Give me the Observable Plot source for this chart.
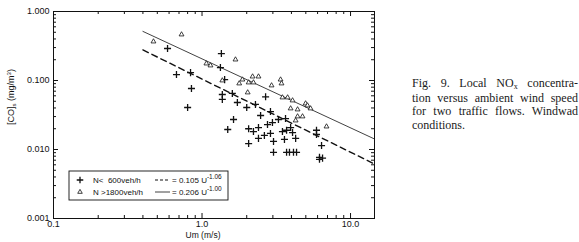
<!DOCTYPE html>
<html><head><meta charset="utf-8">
<script src="https://cdn.jsdelivr.net/npm/d3@7"></script>
<script src="https://cdn.jsdelivr.net/npm/@observablehq/plot@0.6"></script>
<style>
body{margin:0;background:#fff;}
#wrap{position:relative;width:579px;height:242px;overflow:hidden;}
#cap{position:absolute;left:412px;top:77px;width:166px;font:12px/13.5px "Liberation Serif","Times New Roman",serif;color:#1a1a1a;}
#cap .j{text-align:justify;text-align-last:justify;white-space:nowrap;}
#cap sub{font-size:8px;vertical-align:baseline;position:relative;top:2px;}
</style></head><body>
<div id="wrap"><div id="cap">
<div class="j">Fig. 9. Local NO<sub>x</sub> concentra-</div>
<div class="j">tion versus ambient wind speed</div>
<div class="j">for two traffic flows. Windwad</div>
<div>conditions.</div>
</div></div>
<script>
// N < 600 veh/h (plus)
const plusU = [0.586,0.673,0.837,0.849,0.80,1.35,1.33,1.42,1.37,1.37,1.60,1.73,2.00,2.29,2.68,2.89,2.48,1.63,1.49,2.06,2.22,2.40,2.76,2.63,2.40,2.06,2.89,3.03,3.27,3.65,3.95,2.98,3.48,3.71,4.07,3.59,4.27,3.03,3.71,3.88,4.13,4.33,5.90,5.90,6.38,6.18,6.48,6.18];
const plusC = [0.291,0.122,0.130,0.0766,0.0406,0.246,0.154,0.103,0.0627,0.0531,0.065,0.048,0.0406,0.045,0.058,0.0355,0.0311,0.0272,0.0195,0.020,0.0182,0.0208,0.0230,0.0160,0.0145,0.0122,0.0171,0.0131,0.0272,0.0281,0.0208,0.0246,0.0182,0.019,0.0176,0.0140,0.0145,0.0091,0.0091,0.0091,0.0091,0.0091,0.019,0.0165,0.0114,0.0077,0.0075,0.0072];
// N > 1800 veh/h (triangle)
const triU = [0.471,0.728,1.07,1.14,1.68,1.37,1.87,1.78,2.19,2.40,2.06,2.22,2.03,2.94,3.38,3.43,3.48,3.77,4.07,3.95,4.40,4.98,5.38,5.13,4.40,4.75,4.27,6.89];
const triC = [0.367,0.464,0.176,0.165,0.201,0.100,0.103,0.0905,0.114,0.114,0.0935,0.0935,0.067,0.0847,0.103,0.0905,0.0567,0.0567,0.0513,0.0393,0.038,0.0464,0.0393,0.0434,0.0301,0.0301,0.0263,0.0215];
// fits: C = a * U^b
const fitA = [0.105, 0.206];
const fitB = [-1.06, -1.00];
const fitRange = [0.4, 14.5];
const xTickValues = [0.1, 1, 10];
const xTickLabels = ["0.1", "1.0", "10.0"];
const yTickValues = [0.001, 0.01, 0.1, 1];
const yTickLabels = ["0.001", "0.010", "0.100", "1.000"];
const xDomain = [0.1, 14.5];
const yDomain = [0.001, 1];

const plus = plusU.map((u,i)=>({u, c: plusC[i]}));
const tri = triU.map((u,i)=>({u, c: triC[i]}));
const fits = fitA.map((a,k)=>fitRange.map(u=>({u, c: a*Math.pow(u, fitB[k]), k})));
const xMinor = [];
[0.1,1,10].forEach(d=>{for(let m=2;m<=9;m++){const v=d*m; if(v<=xDomain[1]) xMinor.push(v);}});
const yMinor = [];
[0.001,0.01,0.1].forEach(d=>{for(let m=2;m<=9;m++) yMinor.push(d*m);});

const W=579,H=242,mL=53,mR=205,mT=11,mB=24;
const pw=W-mL-mR, ph=H-mT-mB;
const maj=5, mn=3;

const chart = Plot.plot({
  width:W, height:H, marginLeft:mL, marginRight:mR, marginTop:mT, marginBottom:mB,
  style:{fontFamily:"'Liberation Sans', Arial, sans-serif", fontSize:"9px", background:"transparent", color:"#111"},
  x:{type:"log", domain:xDomain},
  y:{type:"log", domain:yDomain},
  marks:[
    Plot.frame({stroke:"#111", strokeWidth:1}),
    Plot.ruleX(xTickValues, {x:d=>d, insetTop:ph-maj, stroke:"#111"}),
    Plot.ruleX(xTickValues, {x:d=>d, insetBottom:ph-maj, stroke:"#111"}),
    Plot.ruleX(xMinor, {x:d=>d, insetTop:ph-mn, stroke:"#111"}),
    Plot.ruleX(xMinor, {x:d=>d, insetBottom:ph-mn, stroke:"#111"}),
    Plot.ruleY(yTickValues, {y:d=>d, insetRight:pw-maj, stroke:"#111"}),
    Plot.ruleY(yTickValues, {y:d=>d, insetLeft:pw-maj, stroke:"#111"}),
    Plot.ruleY(yMinor, {y:d=>d, insetRight:pw-mn, stroke:"#111"}),
    Plot.ruleY(yMinor, {y:d=>d, insetLeft:pw-mn, stroke:"#111"}),
    Plot.axisX({ticks:xTickValues, tickFormat:(d)=>xTickLabels[xTickValues.indexOf(d)], tickSize:0, tickPadding:2, label:null}),
    Plot.axisY({ticks:yTickValues, tickFormat:(d)=>yTickLabels[yTickValues.indexOf(d)], tickSize:0, tickPadding:4, label:null}),
    Plot.line(fits[0], {x:"u", y:"c", stroke:"#111", strokeWidth:1.4, strokeDasharray:"6,4"}),
    Plot.line(fits[1], {x:"u", y:"c", stroke:"#111", strokeWidth:0.8}),
    Plot.dot(plus, {x:"u", y:"c", symbol:"plus", r:2.4, stroke:"#111", strokeWidth:1.3}),
    Plot.dot(tri, {x:"u", y:"c", symbol:"triangle", r:1.8, stroke:"#111", strokeWidth:0.8, fill:"white"})
  ]
});
document.getElementById("wrap").prepend(chart);

const svg = d3.select(chart);
const ff = "'Liberation Sans', Arial, sans-serif";
svg.append("text").attr("x",203).attr("y",238).attr("text-anchor","middle")
  .attr("font-family",ff).attr("font-size",8.5).attr("fill","#111").text("Um (m/s)");
const yl = svg.append("text").attr("transform","translate(14,97) rotate(-90)").attr("text-anchor","middle")
  .attr("font-family",ff).attr("font-size",9).attr("fill","#111");
yl.append("tspan").text("[CO]");
yl.append("tspan").attr("font-size",6).attr("dy",2).text("s");
yl.append("tspan").attr("dy",-2).text(" (mg/m");
yl.append("tspan").attr("font-size",6).attr("dy",-3.5).text("3");
yl.append("tspan").attr("dy",3.5).text(")");

// legend
const lg = svg.append("g").attr("font-family",ff).attr("font-size",8).attr("fill","#111").attr("text-anchor","start");
lg.append("rect").attr("x",69).attr("y",171).attr("width",159).attr("height",29).attr("fill","white").attr("stroke","#111").attr("stroke-width",0.9);
lg.append("path").attr("transform","translate(80,180)").attr("d",d3.symbol(d3.symbolPlus, 16)()).attr("fill","none").attr("stroke","#111").attr("stroke-width",1.3);
lg.append("path").attr("transform","translate(80,192)").attr("d",d3.symbol(d3.symbolTriangle, 9)()).attr("fill","white").attr("stroke","#111").attr("stroke-width",0.8);
lg.append("text").attr("x",93).attr("y",183).style("white-space","pre").text("N<  600veh/h");
lg.append("text").attr("x",93).attr("y",195).text("N >1800veh/h");
lg.append("line").attr("x1",155).attr("x2",170).attr("y1",180).attr("y2",180).attr("stroke","#111").attr("stroke-width",1.2).attr("stroke-dasharray","3,2");
lg.append("line").attr("x1",155).attr("x2",170).attr("y1",192).attr("y2",192).attr("stroke","#111").attr("stroke-width",0.8);
[[183,"= 0.105 U","-1.06"],[195,"= 0.206 U","-1.00"]].forEach(([y,t,s])=>{
  const tx = lg.append("text").attr("x",172).attr("y",y);
  tx.append("tspan").text(t);
  tx.append("tspan").attr("font-size",6.5).attr("dy",-4).text(s);
});
</script>
</body></html>
